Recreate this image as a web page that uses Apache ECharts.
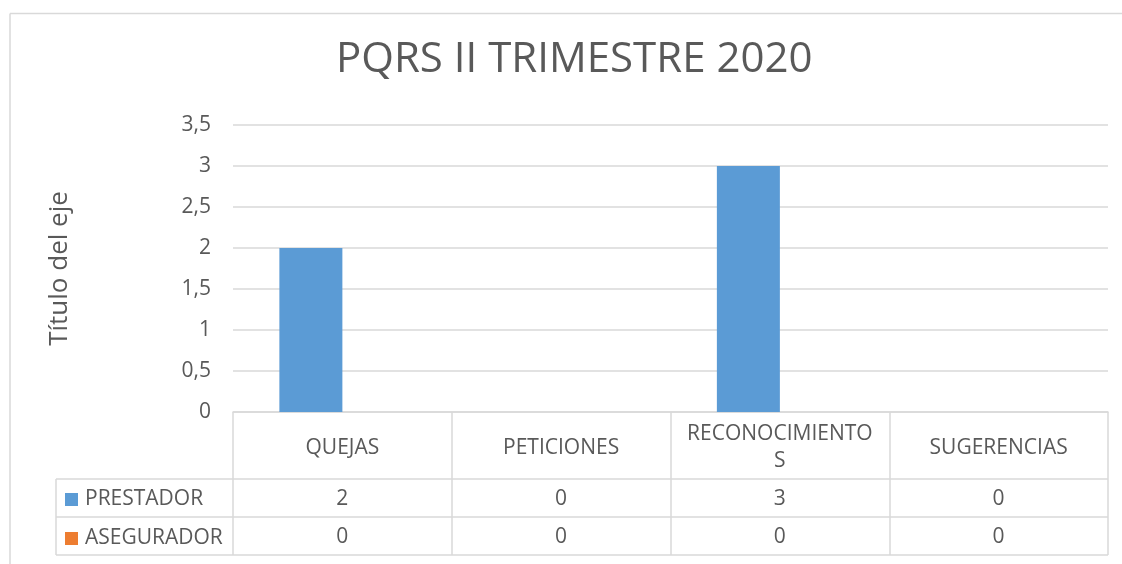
<!DOCTYPE html>
<html>
<head>
<meta charset="utf-8">
<script src="https://cdn.jsdelivr.net/npm/echarts@6/dist/echarts.min.js"></script>
<style>
  html, body { margin: 0; padding: 0; background: #fff; }
  #main { width: 1122px; height: 564px; }
</style>
</head>
<body>
<div id="main"></div>
<script>
// datos del grafico
const categorias = ['QUEJAS', 'PETICIONES', 'RECONOCIMIENTOS', 'SUGERENCIAS']
const prestador = [2, 0, 3, 0]
const asegurador = [0, 0, 0, 0]
const seriesNames = ['PRESTADOR', 'ASEGURADOR']
const yTicks = [0, 0.5, 1, 1.5, 2, 2.5, 3, 3.5]

const gris = '#d9d9d9'
const texto = '#595959'
const fuente = '"Open Sans", sans-serif'
const fs = 21

// caja del grid (tabla debajo)
const G = { left: 233, right: 14, top: 125, bottom: 152 }
const W = 1122, H = 564
const x0 = G.left, x1 = W - G.right, yAxis0 = H - G.bottom
const rowH = [67, 38, 38]   // alto de las filas de la tabla
const legendLeft = 56

let chart = echarts.init(document.getElementById('main'), null, { renderer: 'canvas' })

const yRow1 = yAxis0 + rowH[0]
const yRow2 = yRow1 + rowH[1]
const yRow3 = yRow2 + rowH[2]

function valueAxis(data, centro) {
    return {
        type: 'category',
        data: data.map(String),
        position: 'bottom',
        axisLine: { show: false },
        axisTick: { show: false },
        axisLabel: { color: texto, fontFamily: fuente, fontSize: fs, margin: centro - yAxis0, verticalAlign: 'middle' }
    }
}

function hline(x, y, x2) {
    return { type: 'line', shape: { x1: x, y1: y, x2: x2, y2: y }, style: { stroke: gris, lineWidth: 1.5 }, silent: true }
}
function vline(x, y, y2) {
    return { type: 'line', shape: { x1: x, y1: y, x2: x, y2: y2 }, style: { stroke: gris, lineWidth: 1.5 }, silent: true }
}

let option = {
    backgroundColor: '#fff',
    title: {
        text: 'PQRS II TRIMESTRE 2020',
        left: 331,
        top: 34,
        textStyle: { color: texto, fontFamily: fuente, fontSize: 42, fontWeight: 'normal' }
    },
    legend: {
        data: seriesNames,
        orient: 'vertical',
        left: 60,
        top: yRow1 + 5,
        itemWidth: 13,
        itemHeight: 13,
        itemGap: 18,
        icon: 'rect',
        textStyle: { color: texto, fontFamily: fuente, fontSize: fs, lineHeight: 21, padding: [0, 0, 0, 2] }
    },
    grid: { left: G.left, right: G.right, top: G.top, bottom: G.bottom, containLabel: false },
    xAxis: [
        {
            type: 'category',
            data: categorias,
            axisLine: { lineStyle: { color: gris, width: 1.5 } },
            axisTick: { show: true, alignWithLabel: false, length: yRow3 - yAxis0, lineStyle: { color: gris, width: 1.5 } },
            axisLabel: {
                color: texto, fontFamily: fuente, fontSize: fs, margin: 36, verticalAlign: 'middle',
                width: 186, overflow: 'breakAll', lineHeight: 27, interval: 0
            }
        },
        valueAxis(prestador, 499),
        valueAxis(asegurador, 537)
    ],
    yAxis: {
        type: 'value',
        min: 0,
        max: 3.5,
        interval: 0.5,
        name: 'Título del eje',
        nameLocation: 'middle',
        nameGap: 160,
        nameTextStyle: { color: texto, fontFamily: fuente, fontSize: 26 },
        axisLine: { show: false },
        axisTick: { show: false },
        axisLabel: {
            color: texto, fontFamily: fuente, fontSize: fs, margin: 22,
            formatter: v => yTicks.includes(v) ? String(v).replace('.', ',') : ''
        },
        splitLine: { lineStyle: { color: gris, width: 1.5 } }
    },
    series: [
        {
            name: seriesNames[0], type: 'bar', data: prestador,
            barWidth: '28.8%', barGap: '0%',
            itemStyle: { color: '#5b9bd5' }
        },
        {
            name: seriesNames[1], type: 'bar', data: asegurador,
            barWidth: '28.8%',
            itemStyle: { color: '#ed7d31' }
        }
    ],
    graphic: [
        // marco exterior
        hline(10, 13.5, W),
        vline(10, 13.5, H),
        // lineas de la tabla
        hline(legendLeft, yRow1, x1),
        hline(legendLeft, yRow2, x1),
        hline(legendLeft, yRow3, x1),
        vline(legendLeft, yRow1, yRow3)
    ]
}

chart.setOption(option)
</script>
</body>
</html>
